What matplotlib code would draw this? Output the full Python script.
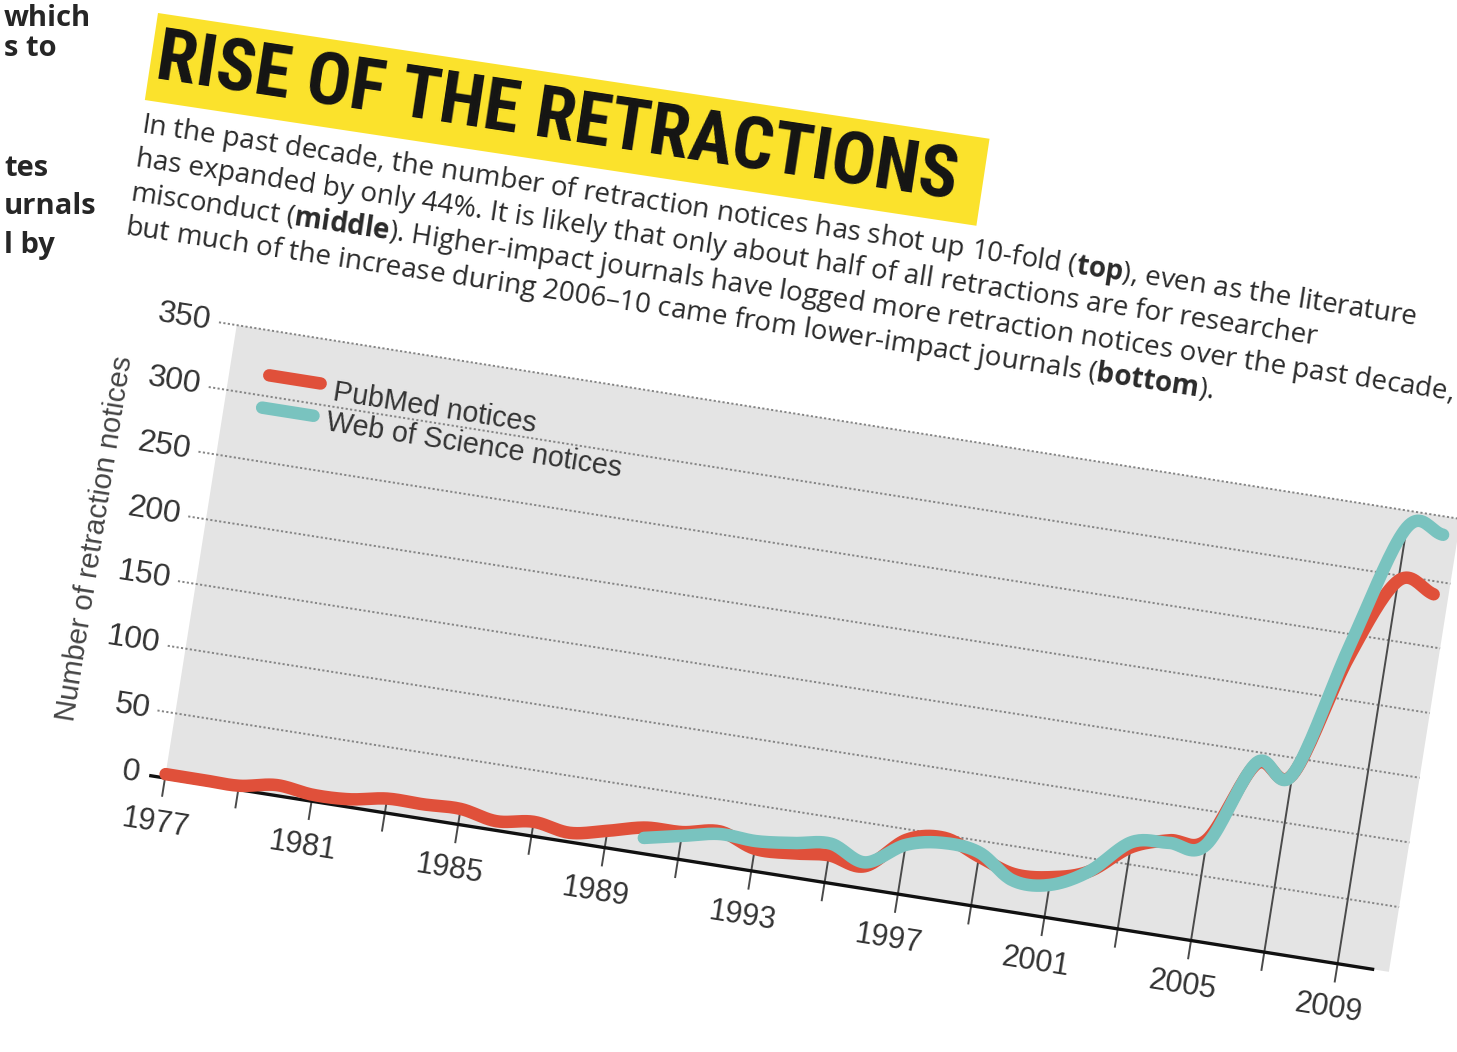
import numpy as np
import matplotlib
matplotlib.use("Agg")
import matplotlib.pyplot as plt
from matplotlib.transforms import Affine2D
from matplotlib.patches import Rectangle
from matplotlib import font_manager

# ---------------- data ----------------
pubmed_years = list(range(1977, 2011))
pubmed_notices = [3, 3, 3, 8, 5, 6, 11, 11, 12, 7, 11, 7, 13, 20, 21, 26, 17,
                  18, 21, 17, 42, 48, 38, 29, 31, 40, 63, 73, 78, 141, 137, 232,
                  296, 290]
wos_years = list(range(1990, 2011))
wos_notices = [12, 18, 24, 23, 26, 30, 20, 38, 44, 41, 24, 25, 40, 67, 71, 74,
               142, 137, 243, 337, 336]
y_tick_values = [0, 50, 100, 150, 200, 250, 300, 350]
x_label_years = [1977, 1981, 1985, 1989, 1993, 1997, 2001, 2005, 2009]
x_tick_years = list(range(1977, 2010, 2))
series_labels = ["PubMed notices", "Web of Science notices"]
y_axis_title = "Number of retraction notices"
title_text = "RISE OF THE RETRACTIONS"
subtitle_lines = [
    r"In the past decade, the number of retraction notices has shot up 10-fold ($\mathbf{top}$), even as the literature",
    r"has expanded by only 44%. It is likely that only about half of all retractions are for researcher",
    r"misconduct ($\mathbf{middle}$). Higher-impact journals have logged more retraction notices over the past decade,",
    r"but much of the increase during 2006–10 came from lower-impact journals ($\mathbf{bottom}$).",
]
side_column_words = ["which", "s to", "tes", "urnals", "l by"]

# ---------------- style ----------------
RED = "#e0503a"
TEAL = "#79c3bf"
PLOT_BG = "#e4e4e4"
YELLOW = "#fbe22c"

avail = {f.name for f in font_manager.fontManager.ttflist}
def pick(*names):
    for n in names:
        if n in avail:
            return n
    return "DejaVu Sans"

COND = pick("Roboto Condensed", "Liberation Sans Narrow", "DejaVu Sans Condensed",
            "Noto Sans Condensed", "Open Sans Condensed", "Liberation Sans")
BODY = pick("Open Sans", "Lato", "Noto Sans")
HELV = pick("Liberation Sans", "DejaVu Sans")

plt.rcParams["mathtext.fontset"] = "custom"
plt.rcParams["mathtext.rm"] = BODY
plt.rcParams["mathtext.bf"] = BODY + ":bold"
plt.rcParams["mathtext.it"] = BODY + ":italic"

W, H, DPI = 1457, 1052, 100
fig = plt.figure(figsize=(W / DPI, H / DPI), dpi=DPI)
fig.patch.set_facecolor("white")
renderer = fig.canvas.get_renderer()

def fit(txt, target_px, final_rot):
    for _ in range(2):
        w = txt.get_window_extent(renderer).width
        txt.set_fontsize(txt.get_fontsize() * target_px / w)
    txt.set_rotation(final_rot)
    return txt

# ---------------- chart frame (rotated page) ----------------
CH_ANGLE = 9.0
P0 = (165.0, H - 778.0)          # display position of (1977, 0)
XPX, YPX = 37.1, 1.31            # pixels per year / per notice
X0, X_AXIS_END, X_BG_END, Y_TOP = 1977, 2010, 2010.4, 350

ax = fig.add_axes([P0[0] / W, P0[1] / H, (X_BG_END - X0) * XPX / W, Y_TOP * YPX / H])
ax.set_xlim(X0, X_BG_END)
ax.set_ylim(0, Y_TOP)
ax.set_axis_off()

R = Affine2D().rotate_deg_around(P0[0], P0[1], -CH_ANGLE)
TD = ax.transData + R
def TDoff(dx, dy):
    return ax.transData + Affine2D().translate(dx, dy) + R
LF = Affine2D().translate(*P0) + R   # chart-frame pixels

# plot background
ax.add_patch(Rectangle((X0, 0), X_BG_END - X0, Y_TOP, transform=TD,
                       facecolor=PLOT_BG, edgecolor="none", zorder=0, clip_on=False))

# dotted gridlines
xg0 = X0 - 18 / XPX
for v in y_tick_values[1:]:
    ax.plot([xg0, X_BG_END], [v, v], transform=TD, color="#858585", lw=1.4,
            ls=(0, (1.1, 1.2)), zorder=1, clip_on=False)

# y tick labels
for v in y_tick_values:
    ax.text(X0, v, f"{v}", transform=TDoff(-26, 0), ha="right", va="center",
            rotation=-CH_ANGLE, rotation_mode="anchor", fontsize=23,
            family=HELV, color="#333333")

# drop lines / ticks at odd years
pm = dict(zip(pubmed_years, pubmed_notices))
ws = dict(zip(wos_years, wos_notices))
for yr in x_tick_years:
    top = max(pm.get(yr, 0), ws.get(yr, 0))
    ax.plot([yr, yr], [-18 / YPX, top], transform=TD, color="#4a4a4a", lw=1.4,
            zorder=2, clip_on=False)

# baseline
ax.plot([X0 - 16 / XPX, X_AXIS_END], [0, 0], transform=TD, color="#111111",
        lw=2.4, zorder=3, clip_on=False, solid_capstyle="butt")

# year labels
for yr in x_label_years:
    ax.text(yr, 0, str(yr), transform=TDoff(-2, -46), ha="center", va="center",
            rotation=-CH_ANGLE, rotation_mode="anchor", fontsize=22,
            family=HELV, color="#333333")

# smoothed series
def smooth(x, y, n=20):
    P = np.column_stack([np.asarray(x, float), np.asarray(y, float)])
    P = np.vstack([2 * P[0] - P[1], P, 2 * P[-1] - P[-2]])
    t = np.linspace(0, 1, n, endpoint=False)[:, None]
    segs = []
    for i in range(1, len(P) - 2):
        p0, p1, p2, p3 = P[i - 1], P[i], P[i + 1], P[i + 2]
        segs.append(0.5 * (2 * p1 + (-p0 + p2) * t + (2 * p0 - 5 * p1 + 4 * p2 - p3) * t ** 2
                           + (-p0 + 3 * p1 - 3 * p2 + p3) * t ** 3))
    segs.append(P[-2][None, :])
    S = np.vstack(segs)
    return S[:, 0], S[:, 1]

sx, sy = smooth(pubmed_years, pubmed_notices)
ax.plot(sx, sy, transform=TD, color=RED, lw=9, zorder=4, clip_on=False,
        solid_capstyle="round", solid_joinstyle="round")
sx, sy = smooth(wos_years, wos_notices)
ax.plot(sx, sy, transform=TD, color=TEAL, lw=9, zorder=5, clip_on=False,
        solid_capstyle="round", solid_joinstyle="round")

# legend (drawn in the rotated chart frame)
ax.plot([40, 92], [414, 414], transform=LF, color=RED, lw=9,
        solid_capstyle="round", clip_on=False, zorder=6)
ax.plot([38, 90], [381, 381], transform=LF, color=TEAL, lw=9,
        solid_capstyle="round", clip_on=False, zorder=6)
t1 = ax.text(106, 408, series_labels[0], transform=LF, ha="left", va="center",
             rotation=0, rotation_mode="anchor", fontsize=20, family=HELV, color="#333333")
fit(t1, 205, -CH_ANGLE)
t2 = ax.text(104, 377, series_labels[1], transform=LF, ha="left", va="center",
             rotation=0, rotation_mode="anchor", fontsize=20, family=HELV, color="#333333")
t2.set_fontsize(t1.get_fontsize())
t2.set_rotation(-CH_ANGLE)

# y-axis title
yt = ax.text(X0, 172, y_axis_title, transform=TDoff(-107, 0), ha="center", va="center",
             rotation=0, rotation_mode="anchor", fontsize=18, family=HELV, color="#444444")
fit(yt, 368, 90 - CH_ANGLE)

# ---------------- header frame ----------------
HA = 8.6
H0 = (158.0, H - 13.0)
RH = Affine2D().rotate_deg_around(H0[0], H0[1], -HA)
HF = Affine2D().translate(*H0) + RH

fig.add_artist(Rectangle((0, -88), 841, 88, transform=HF, facecolor=YELLOW,
                         edgecolor="none", zorder=1))
tt = fig.text(6, -46, title_text, transform=HF, ha="left", va="center",
              rotation=0, rotation_mode="anchor", fontsize=50, weight="bold",
              family=COND, color="#141414", zorder=2)
fit(tt, 808, -HA)

base_y = [-120, -154.5, -189, -223.5]
sub_objs = []
for line, by in zip(subtitle_lines, base_y):
    s = fig.text(0, by, line, transform=HF, ha="left", va="baseline", rotation=0,
                 rotation_mode="anchor", fontsize=17, family=BODY, color="#2a2a2a", zorder=2)
    sub_objs.append(s)
fit(sub_objs[0], 1292, -HA)
for s in sub_objs[1:]:
    s.set_fontsize(sub_objs[0].get_fontsize())
    s.set_rotation(-HA)

# ---------------- neighbouring column (kept fully inside the canvas) ----------------
col_left = 4
col_y = [18, 48, 169, 207, 245]
for word, yy in zip(side_column_words, col_y):
    fig.text(col_left, H - yy, word, transform=None, ha="left", va="center",
             fontsize=21, weight="bold", family=BODY, color="#262626")

fig.savefig("out.png", dpi=DPI, facecolor="white")
